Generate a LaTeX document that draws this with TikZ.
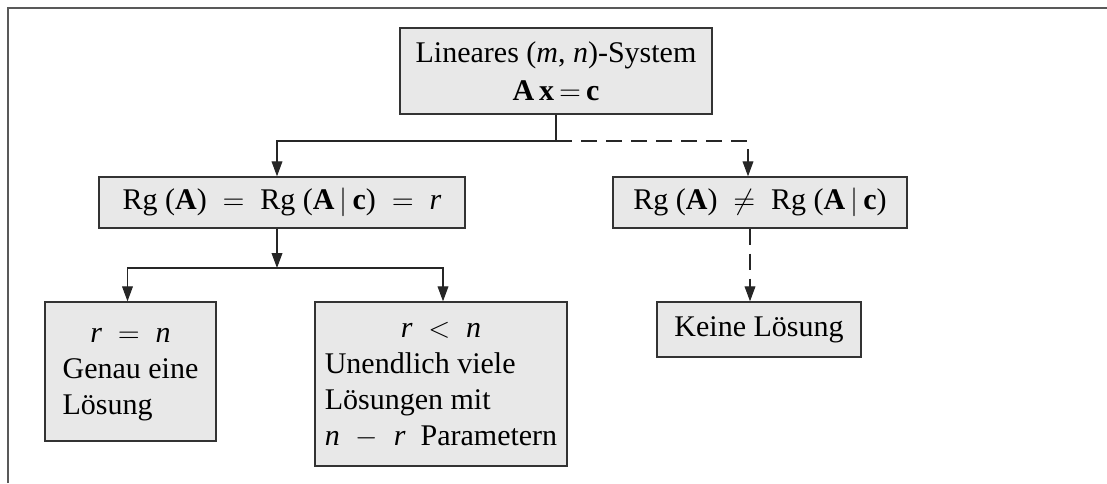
\documentclass[tikz,border=0pt]{standalone}
\usepackage{amsmath}
\usepackage[no-math]{fontspec}
\setmainfont{Liberation Serif}
\usepackage{tikz}
\usetikzlibrary{arrows.meta}
\newcommand{\vA}{\textbf{A}}
\newcommand{\vx}{\textbf{x}}
\newcommand{\vc}{\textbf{c}}
\newcommand{\vr}{\textit{r}}
\newcommand{\vn}{\textit{n}}

\begin{document}
\begin{tikzpicture}[
  >={Triangle[length=7.5pt, width=5.4pt]}, x=0.5pt, y=-0.5pt,
  box/.style={draw=black!80, fill=black!9, line width=0.7pt,
              inner sep=0pt, align=center,
              font=\fontsize{15}{18}\selectfont},
  link/.style={->, line width=0.55pt, black!85},
  dlink/.style={link, dash pattern=on 8pt off 4.5pt},
  frame/.style={line width=1pt, black!65}
]

\useasboundingbox (0,0) rectangle (1107,483);
\def\yfork{141} \def\yfan{268}

\draw[frame] (8,483) -- (8,8) -- (1107,8);

\node[box, minimum width=156pt, minimum height=43pt](sys) at (556,71)
  {Lineares (\textit{m},\ \textit{n})-System\\[1pt] \vA\,\vx\,$=$\,\vc};
\node[box, minimum width=183pt, minimum height=25.5pt](eq) at (282,202.5)
  {Rg (\vA)\; $=$\; Rg (\vA\,$|$\,\vc)\; $=$\; \vr};
\node[box, minimum width=147pt, minimum height=25.5pt](neq) at (760,202.5)
  {Rg (\vA)\; $\neq$\; Rg (\vA\,$|$\,\vc)};
\node[box, minimum width=102pt, minimum height=27.5pt](none) at (759,329.5)
  {Keine Lösung};
\node[box, minimum width=85.5pt, minimum height=69.5pt](one) at (130.5,371.5)
  {\begin{tabular}{@{}l@{}}
     \multicolumn{1}{@{}c@{}}{\vr\; $=$\; \vn}\\
     Genau eine\\
     Lösung
   \end{tabular}};
\node[box, minimum width=126pt, minimum height=82pt](many) at (441,384)
  {\begin{tabular}{@{}l@{}}
     \multicolumn{1}{@{}c@{}}{\vr\; $<$\; \vn}\\
     Unendlich viele\\
     Lösungen mit\\
     \vn\; $-$\; \vr\ \ Parametern
   \end{tabular}};

% fork below the system
\coordinate (fork) at (sys.south |- 0,\yfork);
\draw[link] (sys.south) -- (fork) -| ([xshift=-2.5pt]eq.north);
\draw[dlink] (fork) -| ([xshift=-6pt]neq.north);
\draw[dlink] ([xshift=-5pt]neq.south) -- ([xshift=-5pt]neq.south |- none.north);

% fan below the rank equality
\coordinate (fan) at ([xshift=-2.5pt]eq.south |- 0,\yfan);
\draw[link] ([xshift=-2.5pt]eq.south) -- (fan);
\draw[link] (fan) -| ([xshift=-1.5pt]one.north);
\draw[link] (fan) -| ([xshift=1pt]many.north);

\end{tikzpicture}
\end{document}
